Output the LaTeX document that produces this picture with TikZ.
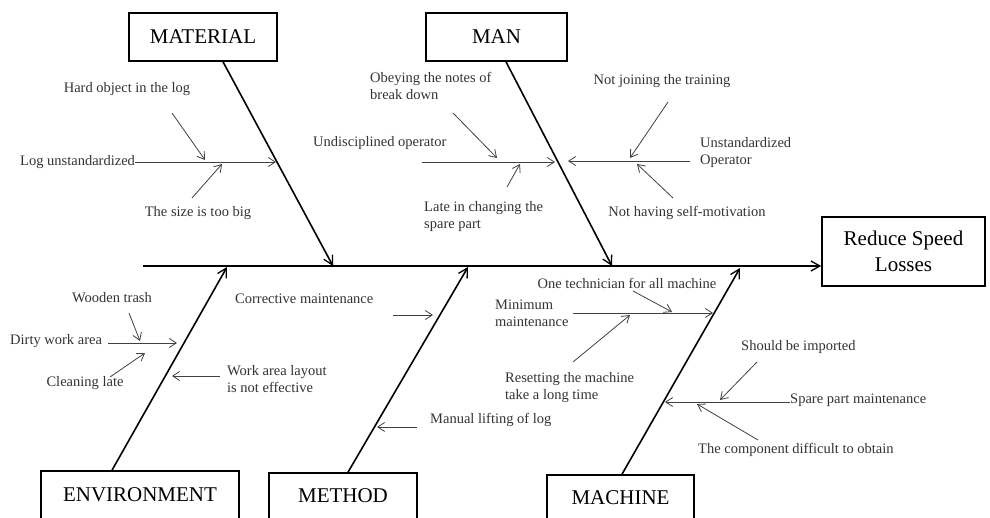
\documentclass[tikz,border=0pt]{standalone}
\usepackage{fontspec}
\setmainfont{Liberation Serif}
\usetikzlibrary{arrows.meta}
\begin{document}
\begin{tikzpicture}[x=1pt,y=-1pt,
  box/.style={draw, line width=1.6pt, inner sep=0pt, font=\fontsize{21}{26}\selectfont, align=center},
  lbl/.style={inner sep=0pt, font=\fontsize{14.5}{17}\selectfont, text=black!80, align=left},
  bone/.style={line width=1.6pt, -{Straight Barb[length=9pt,width=10pt,line width=1.3pt]}},
  sub/.style={line width=0.8pt, draw=black!75, -{Straight Barb[length=7pt,width=9pt,line width=0.8pt]}}
]
\useasboundingbox (0,0) rectangle (990,518);
\clip (0,0) rectangle (990,518);
% boxes
\node[box, minimum width=148pt, minimum height=48pt] (mat) at (203,37) {MATERIAL};
\node[box, minimum width=141pt, minimum height=48pt] (man) at (496.5,37) {MAN};
\node[box, minimum width=163pt, minimum height=69pt] (rsl) at (903.5,251.5) {Reduce Speed\\Losses};
\node[box, minimum width=198pt, minimum height=52pt] (env) at (140,497) {\raisebox{4pt}{ENVIRONMENT}};
\node[box, minimum width=148pt, minimum height=52pt] (meth) at (343,499) {\raisebox{6pt}{METHOD}};
\node[box, minimum width=147pt, minimum height=52pt] (mach) at (620.5,501) {\raisebox{6pt}{MACHINE}};
% spine
\coordinate (spL) at (143,266);
\draw[bone] (spL) -- (spL -| rsl.west);
% main bones
\coordinate (matT) at (333,266);
\coordinate (manT) at (612,266);
\coordinate (envT) at (227,267);
\coordinate (methT) at (468,267);
\coordinate (machT) at (740,268);
\draw[bone] ([xshift=20pt]mat.south) -- (matT);
\draw[bone] ([xshift=9.5pt]man.south) -- (manT);
\draw[bone] ([xshift=-28pt]env.north) -- (envT);
\draw[bone] ([xshift=5pt]meth.north) -- (methT);
\draw[bone] ([xshift=1.5pt]mach.north) -- (machT);
% ---------- MATERIAL
\node[lbl] (hard) at (127,89) {Hard object in the log};
\node[lbl, anchor=west] (logu) at (20,162) {Log unstandardized};
\node[lbl] (size) at (198,213) {The size is too big};
\coordinate (m1b) at (276,162);
\draw[sub] (logu.east) -- (logu.east -| m1b);
\coordinate (h1) at (172,113); \coordinate (h2) at (205,160);
\draw[sub] (h1) -- (h2);
\coordinate (s1) at (192,198); \coordinate (s2) at (222,164);
\draw[sub] (s1) -- (s2);
% ---------- MAN
\node[lbl, anchor=west] (obey) at (370,85.5) {Obeying the notes of\\break down};
\node[lbl, anchor=west] (undis) at (313,143) {Undisciplined operator};
\node[lbl, anchor=west] (late) at (424,216.5) {Late in changing the\\spare part};
\node[lbl] (notj) at (662,81) {Not joining the training};
\node[lbl, anchor=west] (unst) at (700,152.5) {Unstandardized\\Operator};
\node[lbl] (noth) at (687,213) {Not having self-motivation};
\coordinate (ml1) at (422,162); \coordinate (ml2) at (555,162);
\draw[sub] (ml1) -- (ml2);
\coordinate (mr1) at (690,161); \coordinate (mr2) at (568,161);
\draw[sub] (mr1) -- (mr2);
\coordinate (o1) at (453,113); \coordinate (o2) at (497,158);
\draw[sub] (o1) -- (o2);
\coordinate (l1) at (507,187); \coordinate (l2) at (520,164);
\draw[sub] (l1) -- (l2);
\coordinate (j1) at (668,102); \coordinate (j2) at (630,158);
\draw[sub] (j1) -- (j2);
\coordinate (n1) at (673,198); \coordinate (n2) at (637,164);
\draw[sub] (n1) -- (n2);
% ---------- ENVIRONMENT
\node[lbl] (wood) at (112,298) {Wooden trash};
\node[lbl, anchor=west] (dirty) at (10,341) {Dirty work area};
\node[lbl] (clean) at (85,383) {Cleaning late};
\node[lbl, anchor=west] (work) at (227,379) {Work area layout\\is not effective};
\coordinate (d1) at (108,343); \coordinate (d2) at (177,343);
\draw[sub] (d1) -- (d2);
\coordinate (w1) at (129,313); \coordinate (w2) at (140,341);
\draw[sub] (w1) -- (w2);
\coordinate (c1) at (110,377); \coordinate (c2) at (145,353);
\draw[sub] (c1) -- (c2);
\coordinate (wa1) at (220,376); \coordinate (wa2) at (172,376);
\draw[sub] (wa1) -- (wa2);
% ---------- METHOD
\node[lbl, anchor=west] (corr) at (235,299) {Corrective maintenance};
\node[lbl, anchor=west] (manual) at (430,420) {Manual lifting of log};
\coordinate (co1) at (393,315); \coordinate (co2) at (433,315);
\draw[sub] (co1) -- (co2);
\coordinate (ma1) at (417,427); \coordinate (ma2) at (377,427);
\draw[sub] (ma1) -- (ma2);
% ---------- MACHINE
\node[lbl] (onet) at (627,283) {One technician for all machine};
\node[lbl, anchor=west] (mini) at (495,313.5) {Minimum\\maintenance};
\node[lbl, anchor=west] (reset) at (505,387.5) {Resetting the machine\\take a long time};
\node[lbl, anchor=west] (should) at (741,347) {Should be imported};
\node[lbl, anchor=west] (spare) at (790,400) {Spare part maintenance};
\node[lbl, anchor=west] (comp) at (698,450) {The component difficult to obtain};
\coordinate (mi1) at (573,313); \coordinate (mi2) at (713,313);
\draw[sub] (mi1) -- (mi2);
\coordinate (ot1) at (633,291); \coordinate (ot2) at (672,312);
\draw[sub] (ot1) -- (ot2);
\coordinate (r1) at (573,362); \coordinate (r2) at (630,315);
\draw[sub] (r1) -- (r2);
\coordinate (sp2) at (665,402);
\draw[sub] (spare.west |- sp2) -- (sp2);
\coordinate (sh1) at (757,362); \coordinate (sh2) at (720,400);
\draw[sub] (sh1) -- (sh2);
\coordinate (cp1) at (758,440); \coordinate (cp2) at (697,404);
\draw[sub] (cp1) -- (cp2);
\end{tikzpicture}
\end{document}
